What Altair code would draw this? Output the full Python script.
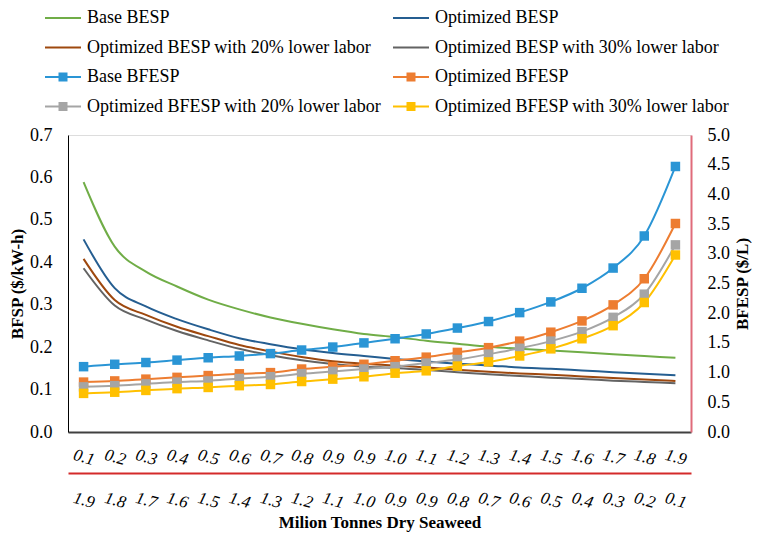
import json
import altair as alt
import pandas as pd

# ---------------- data ----------------
labels_top = ["0.1", "0.2", "0.3", "0.4", "0.5", "0.6", "0.7", "0.8", "0.9", "0.9",
              "1.0", "1.1", "1.2", "1.3", "1.4", "1.5", "1.6", "1.7", "1.8", "1.9"]
labels_bottom = ["1.9", "1.8", "1.7", "1.6", "1.5", "1.4", "1.3", "1.2", "1.1", "1.0",
                 "0.9", "0.9", "0.8", "0.7", "0.6", "0.5", "0.4", "0.3", "0.2", "0.1"]
idx = list(range(20))

besp_names = ["Base BESP", "Optimized BESP",
              "Optimized BESP with 20% lower labor", "Optimized BESP with 30% lower labor"]
bfesp_names = ["Base BFESP", "Optimized BFESP",
               "Optimized BFESP with 20% lower labor", "Optimized BFESP with 30% lower labor"]

base_besp = [0.589, 0.437, 0.378, 0.343, 0.312, 0.289, 0.270, 0.255, 0.242, 0.231,
             0.224, 0.215, 0.208, 0.201, 0.196, 0.192, 0.188, 0.183, 0.179, 0.175]
opt_besp = [0.454, 0.339, 0.296, 0.266, 0.242, 0.221, 0.207, 0.195, 0.186, 0.179,
            0.172, 0.166, 0.161, 0.157, 0.152, 0.149, 0.145, 0.141, 0.137, 0.134]
opt_besp_20 = [0.408, 0.311, 0.276, 0.248, 0.226, 0.205, 0.190, 0.177, 0.167, 0.161,
               0.157, 0.152, 0.147, 0.142, 0.138, 0.135, 0.131, 0.127, 0.124, 0.120]
opt_besp_30 = [0.386, 0.298, 0.265, 0.238, 0.216, 0.196, 0.181, 0.169, 0.160, 0.154,
               0.151, 0.146, 0.141, 0.136, 0.132, 0.128, 0.125, 0.121, 0.118, 0.115]

base_bfesp = [1.10, 1.14, 1.17, 1.21, 1.25, 1.28, 1.32, 1.38, 1.43, 1.50,
              1.57, 1.65, 1.75, 1.86, 2.01, 2.19, 2.42, 2.76, 3.30, 4.47]
opt_bfesp = [0.84, 0.86, 0.89, 0.92, 0.95, 0.98, 1.00, 1.06, 1.10, 1.14,
             1.20, 1.26, 1.34, 1.42, 1.53, 1.68, 1.87, 2.14, 2.58, 3.51]
opt_bfesp_20 = [0.76, 0.78, 0.81, 0.84, 0.86, 0.90, 0.93, 0.98, 1.02, 1.06,
                1.10, 1.16, 1.22, 1.31, 1.41, 1.53, 1.69, 1.93, 2.32, 3.15]
opt_bfesp_30 = [0.65, 0.67, 0.70, 0.73, 0.75, 0.78, 0.80, 0.85, 0.89, 0.93,
                0.99, 1.03, 1.11, 1.18, 1.28, 1.40, 1.57, 1.79, 2.18, 2.98]

colors = ["#70AD47", "#255E91", "#9E480E", "#636363",
          "#2A95D5", "#ED7D31", "#A5A5A5", "#FFC000"]

# ---------------- tables ----------------
def long_table(names, series):
    rows = []
    for name, vals in zip(names, series):
        for i, v in zip(idx, vals):
            rows.append({"i": i, "series": name, "v": v})
    return pd.DataFrame(rows)

df_besp = long_table(besp_names, [base_besp, opt_besp, opt_besp_20, opt_besp_30])
df_bfesp = long_table(bfesp_names, [base_bfesp, opt_bfesp, opt_bfesp_20, opt_bfesp_30])

all_names = besp_names + bfesp_names
# legend glyphs: a plain line, or a line with a (striped, hence solid-looking) square marker
line_path = "M-1,0H1"
marker_path = ("M-1,0H1"
               "M-0.25,-0.2H0.25M-0.25,-0.1H0.25M-0.25,0.1H0.25M-0.25,0.2H0.25")
shapes = [line_path] * 4 + [marker_path] * 4

FONT = "Liberation Serif"

color_scale = alt.Scale(domain=all_names, range=colors)
shape_scale = alt.Scale(domain=all_names, range=shapes)
x_scale = alt.Scale(type="point", padding=0.5)

x_top = alt.X(
    "i:O", scale=x_scale,
    axis=alt.Axis(orient="bottom", offset=0, title=None, ticks=False, tickSize=0,
                  labelExpr=f"{json.dumps(labels_top)}[datum.value]",
                  domainColor="#404040", domainWidth=2,
                  labelAngle=15, labelFontStyle="italic", labelFont=FONT,
                  labelFontSize=17, labelColor="black", labelPadding=25,
                  labelAlign="center", labelBaseline="middle", grid=False),
)
x_bottom = alt.X(
    "i:O", scale=x_scale,
    axis=alt.Axis(orient="bottom", offset=41, title="Milion Tonnes Dry Seaweed",
                  ticks=False, tickSize=0,
                  labelExpr=f"{json.dumps(labels_bottom)}[datum.value]",
                  domainColor="#D42A2A", domainWidth=2,
                  labelAngle=15, labelFontStyle="italic", labelFont=FONT,
                  labelFontSize=17, labelColor="black", labelPadding=27,
                  labelAlign="center", labelBaseline="middle", grid=False,
                  titleFont=FONT, titleFontSize=17, titleFontWeight="bold",
                  titleColor="black", titlePadding=4),
)

y_left = alt.Y(
    "v:Q", scale=alt.Scale(domain=[0, 0.7], nice=False, zero=True),
    axis=alt.Axis(orient="left", values=[0, 0.1, 0.2, 0.3, 0.4, 0.5, 0.6, 0.7],
                  format=".1f", title="BFSP ($/kW-h)", ticks=False, tickSize=0,
                  grid=False, domainColor="black", domainWidth=1,
                  labelFont=FONT, labelFontSize=18, labelColor="black", labelPadding=16,
                  titleFont=FONT, titleFontSize=17, titleFontWeight="bold",
                  titleColor="black", titlePadding=3),
)
y_right = alt.Y(
    "v:Q", scale=alt.Scale(domain=[0, 5], nice=False, zero=True),
    axis=alt.Axis(orient="right", values=[0, 0.5, 1, 1.5, 2, 2.5, 3, 3.5, 4, 4.5, 5],
                  format=".1f", title="BFESP ($/L)", ticks=False, tickSize=0,
                  grid=False, domainColor="#E06B7A", domainWidth=2,
                  labelFont=FONT, labelFontSize=18, labelColor="black", labelPadding=16,
                  titleFont=FONT, titleFontSize=17, titleFontWeight="bold",
                  titleColor="black", titlePadding=5, titleAngle=270,
                  titleBaseline="top"),
)

legend = alt.Legend(
    orient="none", legendX=-24, legendY=-136, columns=2, columnPadding=7,
    direction="horizontal",
    rowPadding=1.5, padding=0, symbolSize=1296, symbolStrokeWidth=2,
    symbolOpacity=1,
    labelFont=FONT, labelFontSize=18, labelColor="black", labelOffset=5, labelLimit=0,
)

besp_lines = alt.Chart(df_besp).mark_line(interpolate="monotone", strokeWidth=2).encode(
    x=x_top, y=y_left,
    color=alt.Color("series:N", scale=color_scale),
)
bfesp_lines = alt.Chart(df_bfesp).mark_line(interpolate="monotone", strokeWidth=2).encode(
    x=x_bottom, y=y_right,
    color=alt.Color("series:N", scale=color_scale),
)
bfesp_points = alt.Chart(df_bfesp).mark_point(
    shape="square", filled=True, size=90, opacity=1
).encode(
    x=x_bottom, y=y_right,
    color=alt.Color("series:N", scale=color_scale),
)
# invisible layer that only carries the legend
legend_layer = alt.Chart(df_bfesp).mark_point(
    filled=False, size=1296, opacity=0, strokeWidth=2
).encode(
    x=x_bottom, y=y_right,
    color=alt.Color("series:N", scale=color_scale, legend=legend, title=""),
    shape=alt.Shape("series:N", scale=shape_scale, legend=legend, title=""),
)

chart = alt.layer(
    besp_lines, alt.layer(bfesp_lines, bfesp_points, legend_layer)
).resolve_scale(
    y="independent"
).resolve_axis(
    x="independent"
).properties(
    width=623, height=297,
    padding={"left": 60, "top": 127, "right": 61, "bottom": 104},
    autosize=alt.AutoSizeParams(type="none"),
).configure_view(stroke=None).configure(background="white")

chart.save("out.html", embed_options={"renderer": "svg", "actions": False})
